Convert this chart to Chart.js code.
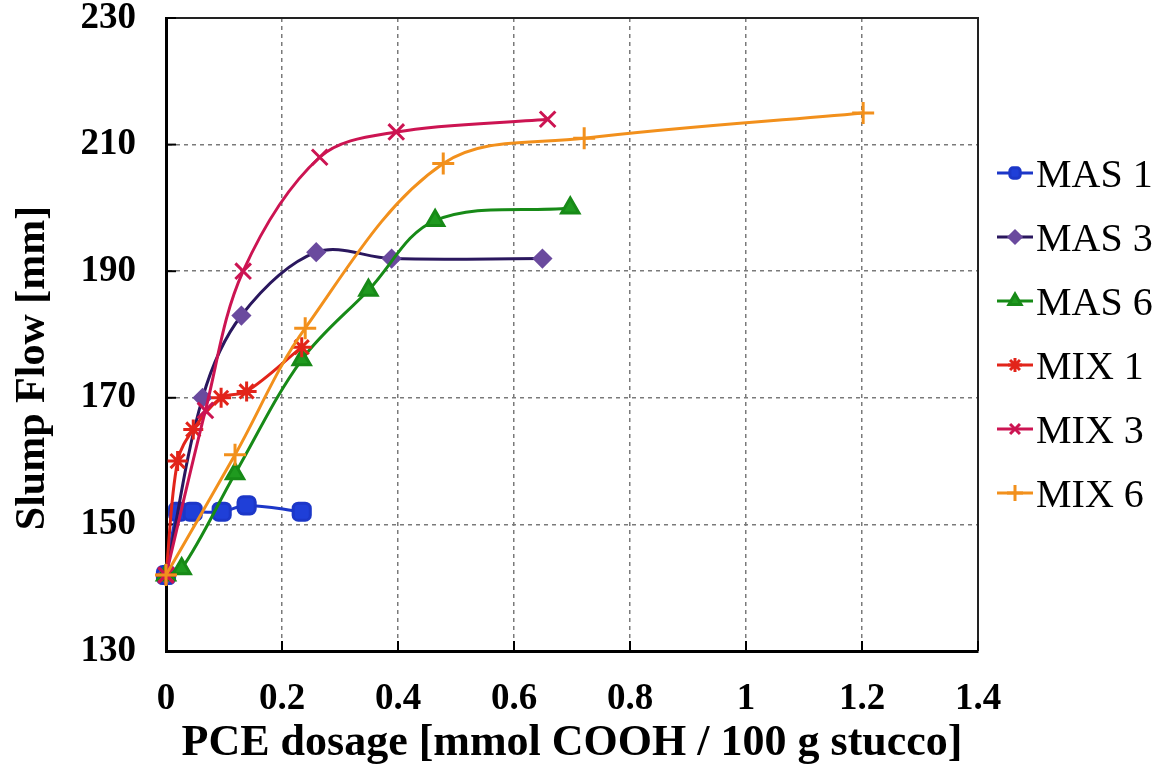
<!DOCTYPE html>
<html>
<head>
<meta charset="utf-8">
<script src="https://cdn.jsdelivr.net/npm/chart.js@4.4.1/dist/chart.umd.min.js"></script>
<style>
  html, body { margin: 0; padding: 0; background: #fff; }
</style>
</head>
<body>
<canvas id="chart" width="1170" height="769"></canvas>
<script>
// Series names (legend order)
const seriesNames = ['MAS 1', 'MAS 3', 'MAS 6', 'MIX 1', 'MIX 3', 'MIX 6'];

// PCE dosage [mmol COOH / 100 g stucco] and slump flow [mm]
const mas1X = [0, 0.021, 0.046, 0.096, 0.139, 0.234];
const mas1Y = [142, 152, 152, 152, 153, 152];

const mas3X = [0, 0.063, 0.130, 0.259, 0.389, 0.649];
const mas3Y = [142, 170, 183, 193, 192, 192];

const mas6X = [0, 0.027, 0.119, 0.234, 0.349, 0.464, 0.697];
const mas6Y = [142, 143, 158, 176, 187, 198, 200];

const mix1X = [0, 0.020, 0.047, 0.095, 0.139, 0.234];
const mix1Y = [142, 160, 165, 170, 171, 178];

const mix3X = [0, 0.068, 0.133, 0.265, 0.397, 0.658];
const mix3Y = [142, 168, 190, 208, 212, 214];

const mix6X = [0, 0.119, 0.240, 0.478, 0.721, 1.202];
const mix6Y = [142, 161, 181, 207, 211, 215];

// axis ticks
const xTicks = [0, 0.2, 0.4, 0.6, 0.8, 1.0, 1.2, 1.4];
const yTicks = [130, 150, 170, 190, 210, 230];

const xTitle = 'PCE dosage [mmol COOH / 100 g stucco]';
const yTitle = 'Slump Flow [mm]';

// look of each series
const styles = [
  { line: '#1c37c8', fill: '#1f3fd8', point: 'rectRounded', r: 10, lr: 6 },
  { line: '#2a175e', fill: '#6a4a9e', point: 'rectRot',     r: 8,  lr: 6 },
  { line: '#178a17', fill: '#1f9a1f', point: 'triangle',    r: 10, lr: 7 },
  { line: '#e2241a', fill: '#e2241a', point: 'star',        r: 10, lr: 7 },
  { line: '#cc1452', fill: '#de1f7e', point: 'crossRot',    r: 11, lr: 7 },
  { line: '#f2901c', fill: '#f2901c', point: 'cross',       r: 11, lr: 8 }
];

const xs = [mas1X, mas3X, mas6X, mix1X, mix3X, mix6X];
const ys = [mas1Y, mas3Y, mas6Y, mix1Y, mix3Y, mix6Y];

const datasets = seriesNames.map((name, i) => ({
  label: name,
  data: xs[i].map((x, j) => ({ x: x, y: ys[i][j] })),
  borderColor: styles[i].line,
  backgroundColor: styles[i].fill,
  pointBackgroundColor: styles[i].fill,
  pointBorderColor: styles[i].point === 'rectRot' ? styles[i].fill : styles[i].line,
  pointStyle: styles[i].point,
  pointRadius: styles[i].r,
  pointBorderWidth: 3,
  borderWidth: 3,
  tension: 0.35,
  fill: false,
  clip: false,
  order: seriesNames.length - i
}));

const serif = '"Liberation Serif", "DejaVu Serif", serif';

// frame, inner tick marks, y title and legend
const decorPlugin = {
  id: 'decor',
  beforeDatasetsDraw(chart) {
    const { ctx, chartArea: a, scales } = chart;
    ctx.save();
    ctx.strokeStyle = '#222';
    ctx.lineWidth = 2;
    ctx.beginPath();
    ctx.moveTo(a.left, a.top);
    ctx.lineTo(a.right, a.top);
    ctx.lineTo(a.right, a.bottom);
    ctx.stroke();

    ctx.strokeStyle = '#000';
    ctx.lineWidth = 2;
    yTicks.forEach(v => {
      const py = scales.y.getPixelForValue(v);
      ctx.beginPath();
      ctx.moveTo(a.left, py);
      ctx.lineTo(a.left + 10, py);
      ctx.stroke();
    });
    xTicks.forEach(v => {
      const px = scales.x.getPixelForValue(v);
      ctx.beginPath();
      ctx.moveTo(px, a.bottom);
      ctx.lineTo(px, a.bottom - 10);
      ctx.stroke();
    });
    ctx.restore();
  },
  afterDraw(chart) {
    const { ctx } = chart;
    ctx.save();

    // y axis title
    ctx.save();
    ctx.translate(33, 368);
    ctx.rotate(-Math.PI / 2);
    ctx.font = 'bold 42px ' + serif;
    ctx.fillStyle = '#000';
    ctx.textAlign = 'center';
    ctx.textBaseline = 'middle';
    ctx.fillText(yTitle, 0, 0);
    ctx.restore();

    // legend
    seriesNames.forEach((name, i) => {
      const st = styles[i];
      const rowY = 173 + i * 64;
      ctx.strokeStyle = st.line;
      ctx.lineWidth = 3;
      ctx.beginPath();
      ctx.moveTo(997, rowY);
      ctx.lineTo(1033, rowY);
      ctx.stroke();
      ctx.fillStyle = st.fill;
      ctx.strokeStyle = st.point === 'rectRot' ? st.fill : st.line;
      ctx.lineWidth = 3;
      Chart.helpers.drawPoint(ctx, { pointStyle: st.point, radius: st.lr, rotation: 0, borderWidth: 3 }, 1015, rowY);
      ctx.fillStyle = '#000';
      ctx.font = '40px ' + serif;
      ctx.textAlign = 'left';
      ctx.textBaseline = 'middle';
      ctx.fillText(name, 1036, rowY + 3);
    });
    ctx.restore();
  }
};

new Chart(document.getElementById('chart'), {
  type: 'line',
  data: { datasets: datasets },
  options: {
    responsive: false,
    animation: false,
    layout: { padding: { top: 18, right: 192, left: 0, bottom: 0 } },
    plugins: {
      legend: { display: false },
      tooltip: { enabled: false }
    },
    scales: {
      x: {
        type: 'linear',
        min: 0,
        max: 1.4,
        afterBuildTicks: scale => { scale.ticks = xTicks.map(v => ({ value: v })); },
        afterFit: scale => { scale.height = 118; scale.paddingLeft = 0; scale.paddingRight = 0; },
        ticks: {
          color: '#000',
          padding: 26,
          font: { family: serif, size: 37, weight: 'bold' },
          callback: v => String(Number(v.toFixed(1)))
        },
        grid: { color: '#7a7a7a', lineWidth: 1.5, drawTicks: false },
        border: { color: '#000', width: 3, dash: [4, 4] },
        title: {
          display: true,
          text: xTitle,
          color: '#000',
          font: { family: serif, size: 44, weight: 'bold', lineHeight: 1 },
          padding: { top: 0, bottom: 3 }
        }
      },
      y: {
        type: 'linear',
        min: 130,
        max: 230,
        afterBuildTicks: scale => { scale.ticks = yTicks.map(v => ({ value: v })); },
        afterFit: scale => { scale.width = 166; scale.paddingTop = 0; scale.paddingBottom = 0; },
        ticks: {
          color: '#000',
          padding: 30,
          font: { family: serif, size: 37, weight: 'bold' }
        },
        grid: { color: '#7a7a7a', lineWidth: 1.5, drawTicks: false },
        border: { color: '#000', width: 3, dash: [4, 4] }
      }
    }
  },
  plugins: [decorPlugin]
});
</script>
</body>
</html>
